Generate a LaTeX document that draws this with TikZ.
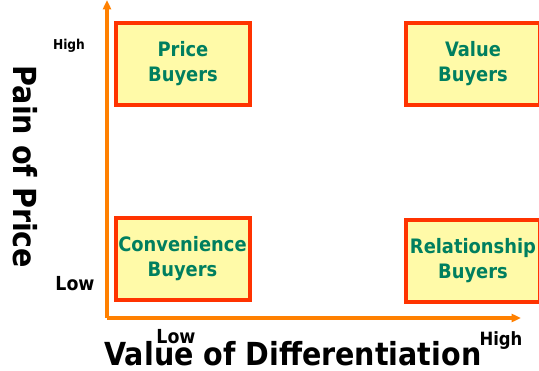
\documentclass[tikz,border=0pt]{standalone}
\usepackage{fontspec}
\setmainfont{DejaVu Sans Condensed}
\usetikzlibrary{arrows.meta}
\definecolor{axisorange}{HTML}{FF8000}
\definecolor{boxred}{HTML}{FF3300}
\definecolor{boxfill}{HTML}{FFFAA8}
\definecolor{boxtext}{HTML}{007F5F}
\begin{document}
\begin{tikzpicture}[x=0.75pt,y=-0.75pt,
  quad/.style={draw=boxred,line width=3pt,fill=boxfill,text=boxtext,
    font=\fontsize{14.9}{18.75}\selectfont\bfseries,align=center,inner sep=0pt,
    minimum width=100.5pt,minimum height=61.5pt},
  axisline/.style={draw=axisorange,line width=2.4pt,-{Triangle[length=7pt,width=6pt]}},
  lowlab/.style={font=\fontsize{14.5}{16}\selectfont\bfseries,text=black,inner sep=0pt},
  highlab/.style={font=\fontsize{10.2}{12}\selectfont\bfseries,text=black,inner sep=0pt},
  biglab/.style={font=\fontsize{23.8}{26}\selectfont\bfseries,text=black,inner sep=0pt}]
\useasboundingbox (0,0) rectangle (539,371);
\coordinate (origin) at (107,318);
\coordinate (ytip) at (107,0);
\coordinate (xtip) at (521,318);
\draw[axisline] (origin) -- (ytip);
\draw[axisline] (origin) -- (xtip);
\node[quad] (price) at (183,64) {Price\\Buyers};
\node[quad] (value) at (473,64) {Value\\Buyers};
\node[quad] (conv) at (182.5,258.5) {Convenience\\Buyers};
\node[quad] (rel) at (473,261) {Relationship\\Buyers};
\node[highlab] (yhigh) at (69,46) {High};
\node[lowlab] (ylow) at (75,284) {Low};
\node[lowlab] (xlow) at (176,337) {Low};
\node[lowlab,font=\fontsize{13.7}{15}\selectfont\bfseries] (xhigh) at (501,341) {High};
\node[biglab] (xtitle) at (293,354) {Value of Differentiation};
\node[biglab,rotate=-90] (ytitle) at (25,167) {Pain of Price};
\end{tikzpicture}
\end{document}
